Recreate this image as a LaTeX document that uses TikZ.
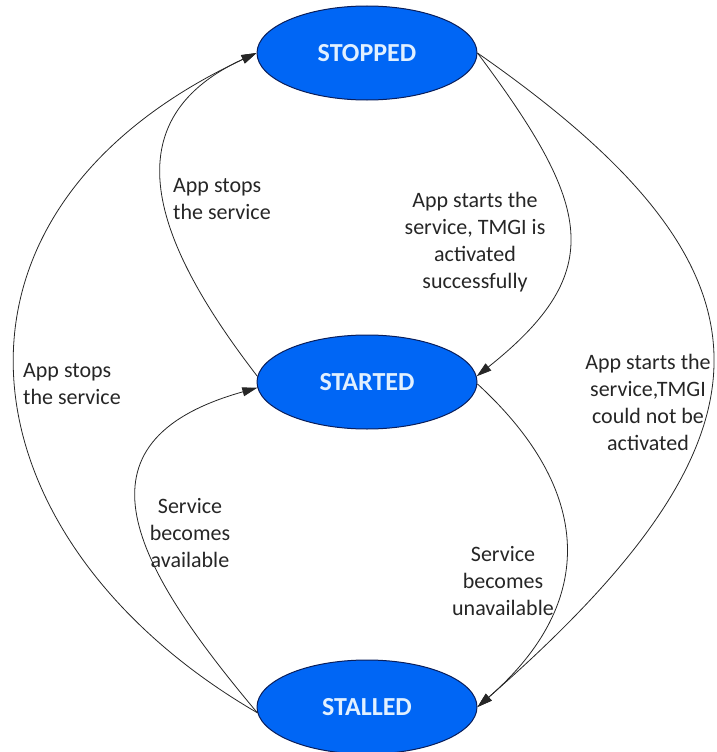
\documentclass[tikz,border=0pt]{standalone}
\usepackage{fontspec}
\setmainfont{Carlito}
\usetikzlibrary{shapes.geometric,arrows.meta}

\definecolor{statefill}{RGB}{0,102,245}
\definecolor{stateline}{RGB}{10,30,90}
\definecolor{statetext}{RGB}{225,240,255}

\tikzset{
  state/.style={ellipse, draw=stateline, line width=1pt, fill=statefill,
    minimum width=220pt, minimum height=94pt, inner sep=0pt,
    text=statetext, font=\fontsize{26}{30}\selectfont\bfseries},
  transition/.style={draw=black!85, line width=0.8pt,
    -{Triangle[length=15pt,width=9pt]}},
  lbl/.style={inner sep=0pt, font=\fontsize{22}{27}\selectfont, text=black!85}
}

\begin{document}
\begin{tikzpicture}[x=1pt,y=-1pt]
  \useasboundingbox (0,0) rectangle (717,752);

  % states
  \node[state] (stopped) at (367,53)  {STOPPED};
  \node[state] (started) at (367,382) {STARTED};
  \node[state] (stalled) at (367,707) {STALLED};

  % transitions on the left
  \draw[transition] (started.177) .. controls (160,250) and (104,123) .. (stopped.west);
  \draw[transition] (stalled.183) .. controls (134,566) and (64,442) .. (started.183);
  \draw[transition] (stalled.183) .. controls (-40,540) and (-90,215) .. (stopped.west);

  % transitions on the right
  \draw[transition] (stopped.east) .. controls (591,205) and (609,271) .. (started.3);
  \draw[transition] (started.-1) .. controls (593,490) and (598,602) .. (stalled.east);
  \draw[transition] (stopped.east) .. controls (789,270) and (793,431) .. (stalled.east);

  % transition labels
  \node[lbl, align=left, anchor=west] (l1) at (173,199) {App stops\\the service};
  \node[lbl, align=center] (l2) at (475,242) {App starts the\\service, TMGI is\\activated\\successfully};
  \node[lbl, align=left, anchor=west] (l3) at (23,384) {App stops\\the service};
  \node[lbl, align=center] (l4) at (648,402) {App starts the\\service,TMGI\\could not be\\activated};
  \node[lbl, align=center] (l5) at (190,533) {Service\\becomes\\available};
  \node[lbl, align=center] (l6) at (503,581) {Service\\becomes\\unavailable};
\end{tikzpicture}
\end{document}
